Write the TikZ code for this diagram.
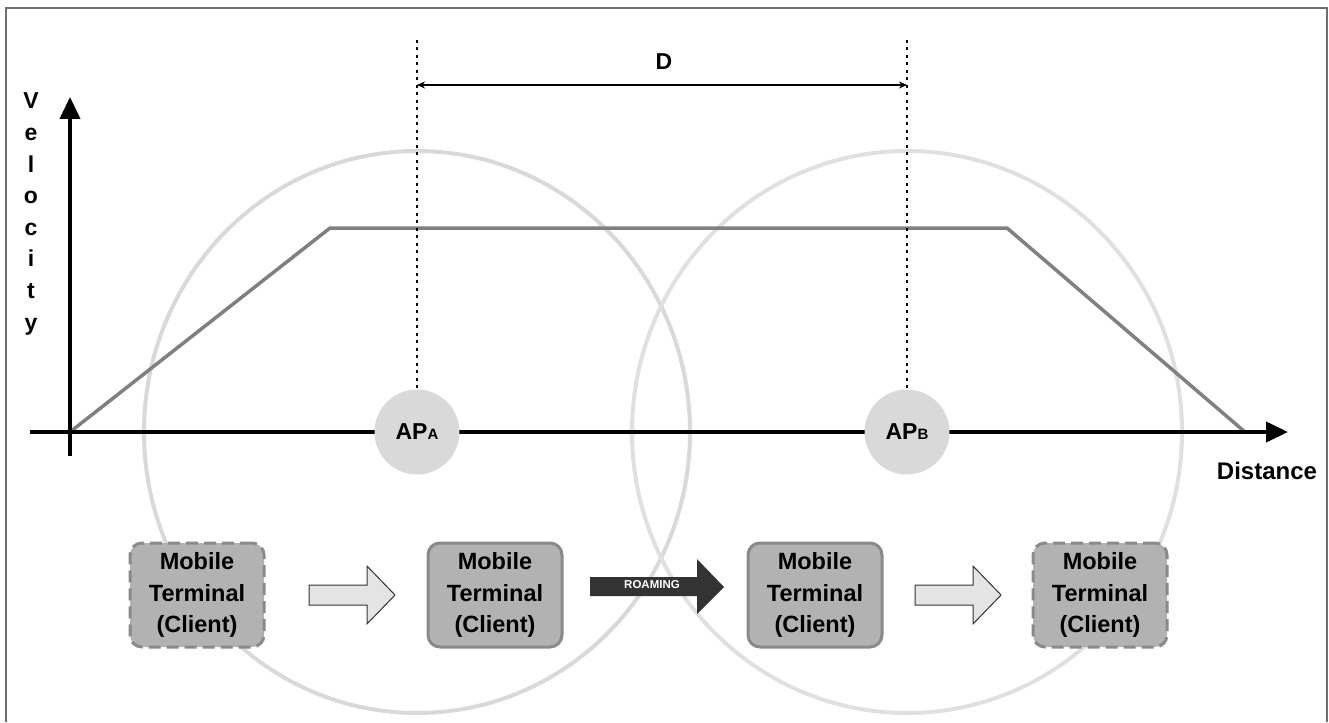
\documentclass[tikz,border=0pt]{standalone}
\usepackage{fontspec}
\setmainfont{Liberation Sans}
\usetikzlibrary{arrows.meta}

\definecolor{framegray}{HTML}{6E6E6E}
\definecolor{rangeA}{HTML}{D9D9D9}
\definecolor{rangeB}{HTML}{E0E0E0}
\definecolor{curvegray}{HTML}{808080}
\definecolor{apfill}{HTML}{D9D9D9}
\definecolor{boxfill}{HTML}{B2B2B2}
\definecolor{boxedge}{HTML}{8A8A8A}
\definecolor{hollowfill}{HTML}{E4E4E4}
\definecolor{roamfill}{HTML}{333333}

\tikzset{
  frameline/.style={draw=framegray, line width=1.5pt},
  coverage/.style={line width=4pt},
  speedline/.style={draw=curvegray, line width=3.5pt, line join=miter},
  axisline/.style={line width=4pt, -{Triangle[length=22pt,width=20pt]}},
  guideline/.style={line width=2.6pt, dash pattern=on 3pt off 4.5pt},
  spanline/.style={line width=1.4pt, {Stealth[length=8pt,width=7pt]}-{Stealth[length=8pt,width=7pt]}},
  apnode/.style={circle, fill=apfill, minimum size=85pt, inner sep=0pt,
    font=\bfseries\fontsize{23}{26}\selectfont},
  mtbox/.style={rounded corners=12pt, fill=boxfill, draw=boxedge, line width=3pt,
    minimum width=134pt, minimum height=104pt, align=center, inner sep=0pt,
    font=\bfseries\fontsize{23.5}{31.5}\selectfont},
  parkedbox/.style={dash pattern=on 12pt off 6pt},
  txtlabel/.style={font=\bfseries\fontsize{24}{28}\selectfont, inner sep=0pt},
  hollowarrow/.style={draw=black!80, fill=hollowfill, line width=1pt, line join=miter},
  roamarrow/.style={fill=roamfill},
  blockarrow/.pic={
    \path[hollowarrow] (0,-10) -- (58,-10) -- (58,-29) -- (86,0) -- (58,29)
      -- (58,10) -- (0,10) -- cycle;
  }
}

\begin{document}
\begin{tikzpicture}[x=1pt, y=-1pt]
\useasboundingbox (0,0) rectangle (1329,722);

% open frame
\coordinate (fbl) at (6,722);
\coordinate (ftl) at (6,8);
\coordinate (ftr) at (1327,8);
\coordinate (fbr) at (1327,722);
\draw[frameline] (fbl) -- (ftl) -- (ftr) -- (fbr);

% coverage ranges of the two access points
\coordinate (cA) at (417,432);
\coordinate (cB) at (907,432);
\draw[coverage, draw=rangeA] (cA) ellipse [x radius=273pt, y radius=281pt];
\draw[coverage, draw=rangeB] (cB) ellipse [x radius=275pt, y radius=281pt];

% velocity profile
\coordinate (O)  at (70,432);
\coordinate (v1) at (330,228);
\coordinate (v2) at (1007,228);
\coordinate (v3) at (1245,432);
\draw[speedline] (O) -- (v1) -- (v2) -- (v3);

% axes
\coordinate (xs) at (30,432);
\coordinate (xe) at (1288,432);
\coordinate (ys) at (70,456);
\coordinate (ye) at (70,97);
\draw[axisline] (xs) -- (xe);
\draw[axisline] (ys) -- (ye);

\node[txtlabel, align=center, font=\bfseries\fontsize{23}{31.6}\selectfont] (vel) at (31,214)
  {V\\e\\l\\o\\c\\i\\t\\y};
\node[txtlabel] (dist) at (1267,471) {Distance};

% access points
\node[apnode] (apA) at (cA) {AP\raisebox{0pt}{\fontsize{15}{17}\selectfont A}};
\node[apnode] (apB) at (cB) {AP\raisebox{0pt}{\fontsize{15}{17}\selectfont B}};

% distance between the access points
\coordinate (gA) at (417,40);
\coordinate (gB) at (907,40);
\draw[guideline] (gA) -- (apA.north);
\draw[guideline] (gB) -- (apB.north);
\coordinate (sA) at (417,85);
\coordinate (sB) at (907,85);
\draw[spanline] (sA) -- (sB);
\node[txtlabel, font=\bfseries\fontsize{23}{26}\selectfont] (dlab) at (664,62) {D};

% mobile terminal positions
\node[mtbox, parkedbox] (t1) at (197,595) {Mobile\\Terminal\\(Client)};
\node[mtbox] (t2) at (495,595) {Mobile\\Terminal\\(Client)};
\node[mtbox] (t3) at (815,595) {Mobile\\Terminal\\(Client)};
\node[mtbox, parkedbox] (t4) at (1100,595) {Mobile\\Terminal\\(Client)};

% movement arrows
\pic at (309,595) {blockarrow};
\pic at (915,595) {blockarrow};

\coordinate (r0) at (590,587);
\path[roamarrow] (r0) ++(0,-10) -- ++(107,0) -- ++(0,-18) -- ++(27,28)
  -- ++(-27,27) -- ++(0,-18) -- ++(-107,0) -- cycle;
\node[text=white, font=\bfseries\fontsize{11.5}{13}\selectfont, inner sep=0pt]
  (roam) at (652,585) {ROAMING};
\end{tikzpicture}
\end{document}
